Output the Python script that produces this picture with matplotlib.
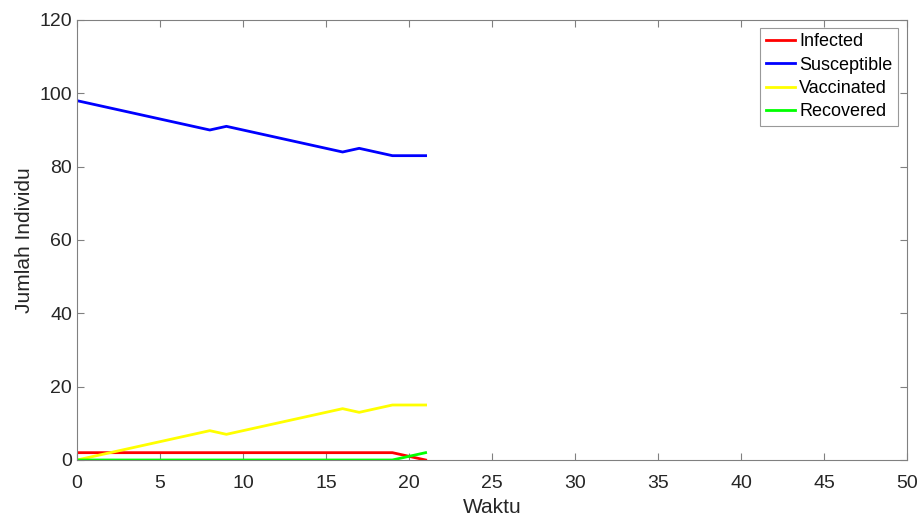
import numpy as np
import matplotlib.pyplot as plt

plt.rcParams['font.family'] = ['Liberation Sans', 'DejaVu Sans']

# Data
waktu = list(range(22))
infected = [2] * 20 + [1, 0]
susceptible = [98, 97, 96, 95, 94, 93, 92, 91, 90, 91, 90, 89, 88, 87, 86, 85,
               84, 85, 84, 83, 83, 83]
vaccinated = [0, 1, 2, 3, 4, 5, 6, 7, 8, 7, 8, 9, 10, 11, 12, 13,
              14, 13, 14, 15, 15, 15]
recovered = [0] * 20 + [1, 2]

x_ticks = np.arange(0, 51, 5)
y_ticks = np.arange(0, 121, 20)


def main():
    fig = plt.figure(figsize=(9.2, 5.18), dpi=100)
    ax = fig.add_axes([77 / 920, 1 - 460 / 518, 830 / 920, 440 / 518])

    ax.plot(waktu, infected, color=(1, 0, 0), lw=2, label="Infected")
    ax.plot(waktu, susceptible, color=(0, 0, 1), lw=2, label="Susceptible")
    ax.plot(waktu, vaccinated, color=(1, 1, 0), lw=2, label="Vaccinated")
    ax.plot(waktu, recovered, color=(0, 1, 0), lw=2, label="Recovered")

    ax.set_xlim(0, 50)
    ax.set_ylim(0, 120)
    ax.set_xticks(x_ticks)
    ax.set_yticks(y_ticks)

    for s in ax.spines.values():
        s.set_color("#808080")
        s.set_linewidth(0.8)
    ax.tick_params(direction="in", length=5, color="#808080",
                   labelcolor="#262626", labelsize=14, top=True, right=True,
                   labeltop=False, labelright=False)
    ax.tick_params(axis="x", pad=11)

    ax.set_xlabel("Waktu", fontsize=15, color="#262626", labelpad=4)
    ax.set_ylabel("Jumlah Individu", fontsize=15, color="#262626", labelpad=4)

    leg = ax.legend(loc="upper right", fontsize=13, frameon=True,
                    fancybox=False, borderpad=0.3, labelspacing=0.35,
                    handlelength=1.6, handletextpad=0.25, borderaxespad=0,
                    bbox_to_anchor=(0.989, 0.982))
    leg.get_frame().set_edgecolor("#808080")
    leg.get_frame().set_linewidth(0.8)

    fig.savefig("out.png", dpi=100)


if __name__ == "__main__":
    main()
